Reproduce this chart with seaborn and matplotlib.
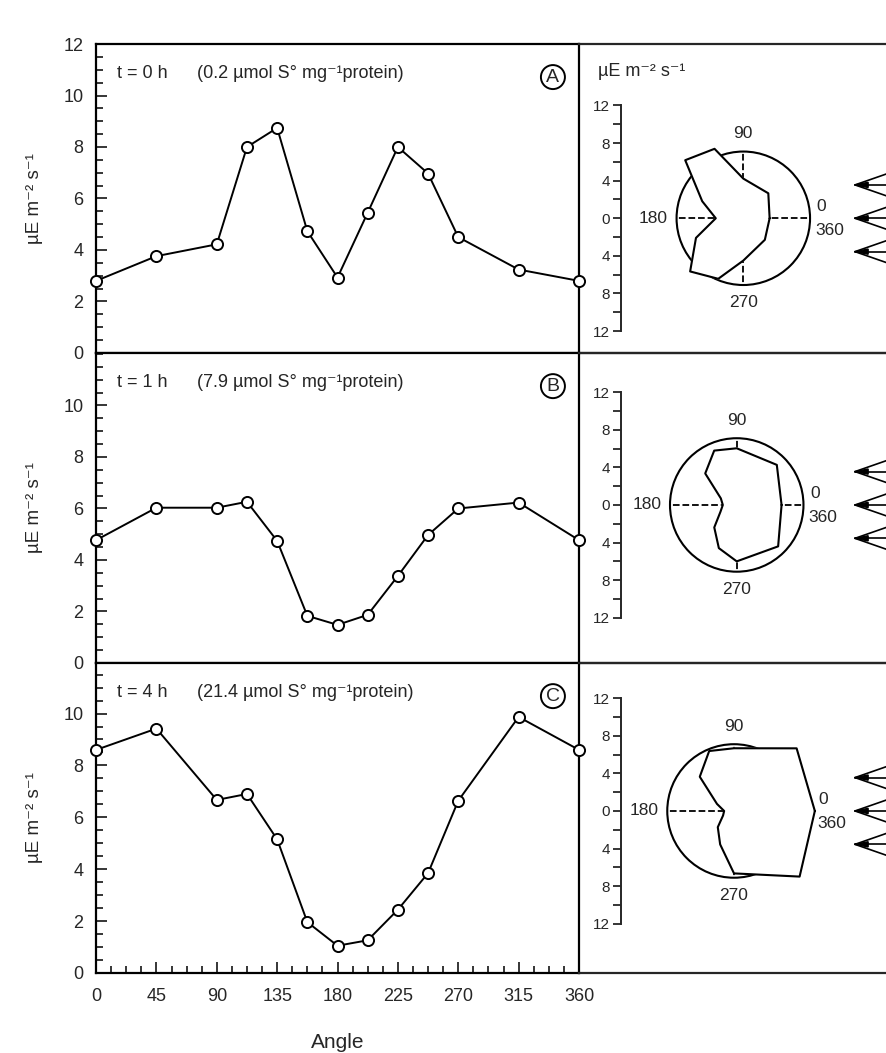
import numpy as np
import pandas as pd
import seaborn as sns
import matplotlib.pyplot as plt
from matplotlib.patches import Circle
from matplotlib.ticker import MultipleLocator, FixedLocator

# angle of light sensor (degrees) and measured light (uE m-2 s-1)
angles = [0, 45, 90, 112.5, 135, 157.5, 180, 202.5, 225, 247.5, 270, 315, 360]
light_0h = [2.8, 3.76, 4.22, 8.0, 8.74, 4.73, 2.93, 5.45, 8.0, 6.97, 4.5, 3.24, 2.8]
light_1h = [4.77, 6.03, 6.03, 6.26, 4.74, 1.83, 1.48, 1.87, 3.38, 4.97, 6.0, 6.23, 4.77]
light_4h = [8.6, 9.42, 6.67, 6.9, 5.15, 1.96, 1.05, 1.26, 2.44, 3.85, 6.64, 9.87, 8.6]

times = ["t = 0 h", "t = 1 h", "t = 4 h"]
sulfur = ["(0.2 µmol S° mg⁻¹protein)", "(7.9 µmol S° mg⁻¹protein)", "(21.4 µmol S° mg⁻¹protein)"]
letters = ["A", "B", "C"]
unit = "µE m⁻² s⁻¹"

sns.set_style("ticks")
plt.rcParams['font.family'] = ['Liberation Sans', 'DejaVu Sans']
plt.rcParams['axes.linewidth'] = 1.6

fig = plt.figure(figsize=(8.86, 10.53), dpi=100)

# layout in figure fractions
boxes = [(0.6648, 0.2934), (0.3704, 0.2944), (0.0760, 0.2944)]
ytops = [12, 12.04, 11.95]
rxlims = [(-17.48, 15.18), (-16.78, 15.88), (-16.49, 16.17)]
rylims = [(-14.33, 18.54), (-16.81, 16.17), (-17.23, 15.74)]
bar_x = [-13.0, -12.3, -12.0]
R = 7.1

series = [light_0h, light_1h, light_4h]

for i, vals in enumerate(series):
    b, h = boxes[i]
    ax = fig.add_axes([0.1084, b, 0.5451, h])
    df = pd.DataFrame({"angle": angles, "light": vals})
    sns.lineplot(data=df, x="angle", y="light", ax=ax, color="black", lw=1.4,
                 marker="o", markersize=8, markerfacecolor="white",
                 markeredgecolor="black", markeredgewidth=1.4, clip_on=False, zorder=5)
    ax.set_xlim(0, 360)
    ax.set_ylim(0, ytops[i])
    ax.set_yticks(np.arange(0, 12.1 if i == 0 else 10.1, 2))
    ax.yaxis.set_minor_locator(MultipleLocator(0.5))
    ax.xaxis.set_minor_locator(MultipleLocator(11.25))
    ax.set_xticks(np.arange(0, 361, 45))
    ax.tick_params(which="major", direction="in", length=8, width=1.3, labelsize=13)
    ax.tick_params(which="minor", direction="in", length=5, width=1.3)
    ax.tick_params(axis="y", pad=9)
    ax.tick_params(axis="x", pad=11)
    for s in ax.spines.values():
        s.set_visible(True)
        s.set_color("black")
    ax.set_ylabel(unit, fontsize=13.5, labelpad=15)
    if i < 2:
        ax.tick_params(axis="x", which="both", length=0, labelbottom=False)
        ax.set_xlabel("")
    else:
        ax.set_xlabel("Angle", fontsize=15, labelpad=20)
    ax.text(0.043, 0.905, times[i], transform=ax.transAxes, fontsize=13, va="center")
    ax.text(0.209, 0.905, sulfur[i], transform=ax.transAxes, fontsize=13, va="center")
    ax.text(0.946, 0.893, letters[i], transform=ax.transAxes, fontsize=14, ha="center",
            va="center", bbox=dict(boxstyle="circle,pad=0.18", fc="white", ec="black", lw=1.4))

    # polar diagram
    rx = fig.add_axes([0.6535, b, 0.3465, h])
    rx.patch.set_alpha(0)
    rx.set_xlim(*rxlims[i])
    rx.set_ylim(*rylims[i])
    th = np.deg2rad(angles)
    px = np.array(vals) * np.cos(th)
    py = np.array(vals) * np.sin(th)
    rx.add_patch(Circle((0, 0), R, fill=False, ec="black", lw=1.5, zorder=1))
    for a in [0, 90, 180, 270]:
        t = np.deg2rad(a)
        rx.plot([0, R * np.cos(t)], [0, R * np.sin(t)], ls="--", color="black", lw=1.3, zorder=1)
    rx.fill(px, py, color="white", zorder=2)
    rx.plot(px, py, color="black", lw=1.5, zorder=3)
    right = max(R + 0.7, vals[0] + 0.4)
    rx.text(0, 9.0, "90", ha="center", va="center", fontsize=12.5)
    rx.text(0, -9.0, "270", ha="center", va="center", fontsize=12.5)
    rx.text(-R - 0.9, 0, "180", ha="right", va="center", fontsize=12.5)
    rx.text(right, 1.25, "0", ha="left", va="center", fontsize=12.5)
    rx.text(right - 0.15, -1.3, "360", ha="left", va="center", fontsize=12.5)

    # incoming light arrows
    tip = rxlims[i][1] - 3.3
    for ya in [3.55, 0, -3.55]:
        for d in [1.15, 0, -1.15]:
            rx.plot([tip, tip + 3.6], [ya, ya + d * 3.6 / 3.3], color="black", lw=1.2, zorder=3)
        rx.fill([tip, tip + 1.4, tip + 1.4], [ya, ya + 0.28, ya - 0.28], color="black", zorder=3)

    # scale bar on the left
    rx.spines["left"].set_position(("data", bar_x[i]))
    rx.spines["left"].set_bounds(-12, 12)
    rx.spines["left"].set_linewidth(1.4)
    rx.spines["right"].set_visible(False)
    rx.spines["top"].set_visible(True)
    rx.spines["bottom"].set_visible(True)
    rx.set_yticks(np.arange(-12, 13, 4))
    rx.set_yticklabels([str(abs(v)) for v in range(-12, 13, 4)])
    rx.yaxis.set_minor_locator(FixedLocator([-10, -6, -2, 2, 6, 10]))
    rx.tick_params(axis="y", which="major", direction="out", length=6, width=1.3, labelsize=11, pad=2)
    rx.tick_params(axis="y", which="minor", direction="out", length=6, width=1.3)
    rx.set_xticks([])
    rx.set_xlabel("")
    rx.set_ylabel("")
    if i == 0:
        rx.text(-15.5, 15.6, unit, ha="left", va="center", fontsize=13)

fig.savefig("out.png", dpi=100)
